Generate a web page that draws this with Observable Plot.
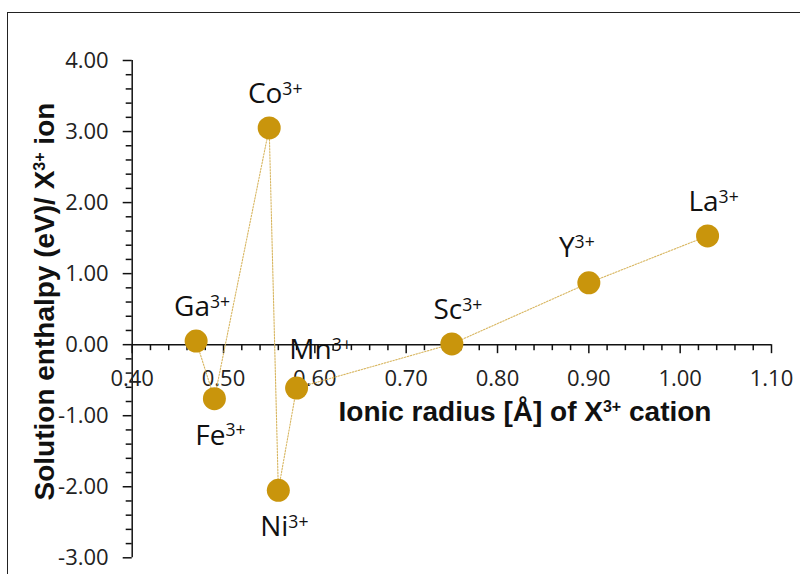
<!DOCTYPE html>
<html><head><meta charset="utf-8">
<script src="https://cdn.jsdelivr.net/npm/d3@7"></script>
<script src="https://cdn.jsdelivr.net/npm/@observablehq/plot@0.6"></script>
<style>
body{margin:0;background:#fff;}
#wrap{position:relative;width:800px;height:574px;overflow:hidden;background:#fff;}
#border{position:absolute;left:7px;top:11.5px;width:900px;height:700px;border-left:1.5px solid #222;border-top:1.5px solid #222;pointer-events:none;}
</style></head><body><div id="wrap"><div id="chart"></div><div id="border"></div></div>
<script>
// ---- data ----
const ions = ["Ga", "Fe", "Co", "Ni", "Mn", "Sc", "Y", "La"];
const radius = [0.47, 0.49, 0.55, 0.56, 0.58, 0.75, 0.90, 1.03];      // Å
const enthalpy = [0.05, -0.76, 3.05, -2.05, -0.61, 0.01, 0.87, 1.53]; // eV
const labelPlace = ["N", "S", "N", "S", "NE", "N", "NW", "N"];
const xTickLabels = ["0.40", "0.50", "0.60", "0.70", "0.80", "0.90", "1.00", "1.10"];
const yTickLabels = ["-3.00", "-2.00", "-1.00", "0.00", "1.00", "2.00", "3.00", "4.00"];
const xTitle = "Ionic radius [Å] of X^{3+} cation";
const yTitle = "Solution enthalpy (eV)/ X^{3+} ion";

const data = ions.map((ion, i) => ({ion, x: radius[i], y: enthalpy[i], label: ion + "^{3+}", place: labelPlace[i]}));

const W = 800, H = 574;
const mL = 131.7, mR = 29, mT = 60, mB = 16.7;
const xDom = [0.4, 1.1], yDom = [-3, 4];
const pxPerX = (W - mL - mR) / (xDom[1] - xDom[0]);
const pxPerY = (H - mT - mB) / (yDom[1] - yDom[0]);

const xMajor = xTickLabels.map(Number);
const xMinor = d3.range(40, 111, 2).filter(v => v % 10 !== 0).map(v => v / 100);
const yMajor = yTickLabels.map(Number);
const yMinor = d3.range(-30, 41, 2).filter(v => v % 10 !== 0).map(v => v / 10);

const majorLen = 9, minorLen = 6;
const dotColor = "#C9950C";
const lineColor = "#D8B660";
const offsets = {N: [6, -25], S: [6, 46], NE: [24, -29], NW: [-12, -26]};
const tickFont = "'Open Sans', sans-serif";
const titleFont = "'Liberation Sans', Arial, sans-serif";

const labelMarks = Object.entries(offsets).map(([k, [dx, dy]]) =>
  Plot.text(data.filter(d => d.place === k), {
    x: "x", y: "y", text: "label", dx, dy, textAnchor: "middle", lineAnchor: "bottom",
    fontSize: 28, fill: "#111", fontFamily: tickFont
  })
);

const plot = Plot.plot({
  width: W, height: H,
  marginLeft: mL, marginRight: mR, marginTop: mT, marginBottom: mB,
  x: {domain: xDom, axis: null},
  y: {domain: yDom, axis: null},
  style: {fontFamily: tickFont, fontSize: "22px", background: "transparent", overflow: "visible"},
  marks: [
    Plot.ruleY([0], {stroke: "#111", strokeWidth: 1.5}),
    Plot.ruleX([0.4], {stroke: "#111", strokeWidth: 1.5}),
    Plot.ruleX(xMajor, {x: d => d, y1: 0, y2: -majorLen / pxPerY, stroke: "#111", strokeWidth: 1.5}),
    Plot.ruleX(xMinor, {x: d => d, y1: 0, y2: -minorLen / pxPerY, stroke: "#111", strokeWidth: 1.5}),
    Plot.ruleY(yMajor, {y: d => d, x1: 0.4 - majorLen / pxPerX, x2: 0.4, stroke: "#111", strokeWidth: 1.5}),
    Plot.ruleY(yMinor, {y: d => d, x1: 0.4 - minorLen / pxPerX, x2: 0.4, stroke: "#111", strokeWidth: 1.5}),
    Plot.text(xTickLabels, {x: d => +d, y: 0, text: d => d, dy: 41, lineAnchor: "bottom", textAnchor: "middle", fontSize: 22, fill: "#222"}),
    Plot.text(yTickLabels, {x: 0.4, y: d => +d, text: d => d, dx: -23.5, textAnchor: "end", fontSize: 22, fill: "#222"}),
    Plot.line(data, {x: "x", y: "y", stroke: lineColor, strokeWidth: 1.1, strokeDasharray: "1.5,1.5"}),
    Plot.dot(data, {x: "x", y: "y", r: 11.5, fill: dotColor, stroke: "none"}),
    ...labelMarks,
    Plot.text([xTitle], {frameAnchor: "top-left", text: d => d, dx: 206.3, dy: 360, textAnchor: "start", lineAnchor: "bottom",
      fontSize: 28, fontWeight: "bold", fontFamily: titleFont, fill: "#111"}),
    Plot.text([yTitle], {frameAnchor: "left", text: d => d, dx: -78.7, dy: -7.6, rotate: -90, textAnchor: "middle", lineAnchor: "bottom",
      fontSize: 28, fontWeight: "bold", fontFamily: titleFont, fill: "#111"})
  ]
});
document.getElementById("chart").appendChild(plot);

// superscripts as real tspans
const NS = "http://www.w3.org/2000/svg";
plot.querySelectorAll("text").forEach(t => {
  const s = t.textContent;
  if (!s.includes("^{")) return;
  const cs = getComputedStyle(t);
  const fs = parseFloat(cs.fontSize);
  const bold = parseInt(cs.fontWeight) >= 600;
  const ratio = bold ? 0.57 : 0.63;
  const raise = bold ? 0.31 : 0.30;
  t.textContent = "";
  let raised = false;
  s.split(/(\^\{[^}]*\})/).forEach(p => {
    if (!p) return;
    const ts = document.createElementNS(NS, "tspan");
    if (p.startsWith("^{")) {
      ts.textContent = p.slice(2, -1);
      ts.setAttribute("font-size", (fs * ratio).toFixed(1));
      ts.setAttribute("dy", (-fs * raise).toFixed(1));
      raised = true;
    } else {
      ts.textContent = p;
      if (raised) { ts.setAttribute("dy", (fs * raise).toFixed(1)); raised = false; }
    }
    t.appendChild(ts);
  });
});
</script></body></html>
